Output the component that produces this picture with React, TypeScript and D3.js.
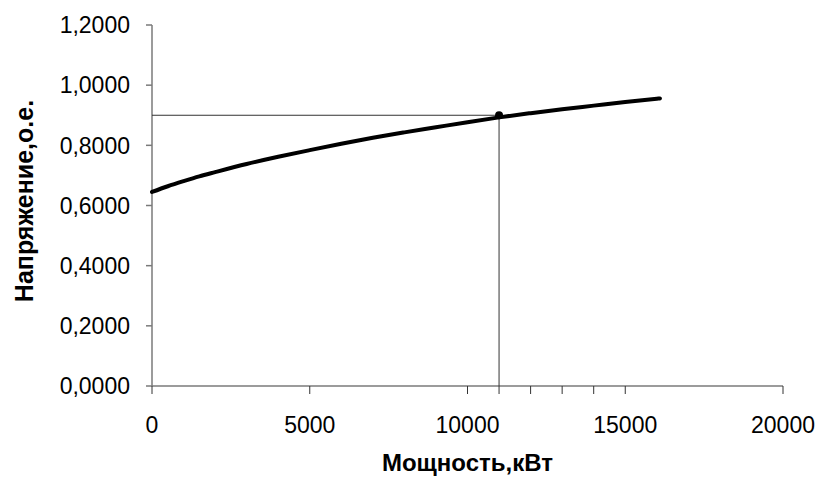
import React from 'react';
import * as d3 from 'd3';

// power, kW
const power = [0, 500, 1000, 1500, 2000, 3000, 4000, 5000, 6000, 7000, 8000, 9000, 10000, 11000, 12000, 13000, 14000, 15000, 16000, 16100];
// voltage, p.u.
const voltage = [0.645, 0.664, 0.681, 0.697, 0.711, 0.738, 0.762, 0.784, 0.805, 0.825, 0.843, 0.86, 0.877, 0.893, 0.907, 0.92, 0.932, 0.944, 0.955, 0.956];

const markPower = 11000;
const markVoltage = 0.9;

const yTicks = [0, 0.2, 0.4, 0.6, 0.8, 1.0, 1.2];
const xTicks = [0, 5000, 10000, 11000, 12000, 13000, 14000, 15000, 20000];
const xLabels = [0, 5000, 10000, 15000, 20000];

const width = 817;
const height = 478;
const margin = { left: 152, right: 34, top: 25, bottom: 92 };

const App = () => {
    const x = d3.scaleLinear().domain([0, 20000]).range([margin.left, width - margin.right]);
    const y = d3.scaleLinear().domain([0, 1.2]).range([height - margin.bottom, margin.top]);

    const line = d3.line<number>()
        .x((d, i) => x(power[i]))
        .y(d => y(d))
        .curve(d3.curveMonotoneX);

    const fmtY = (v: number) => v.toFixed(4).replace('.', ',');
    const font = 'Liberation Sans, Arial, sans-serif';
    const axisColor = '#7a7a7a';

    return (
        <svg width={width} height={height} style={{ position: 'absolute', left: 0, top: 0, background: '#fff' }}>
            {/* y axis */}
            <line x1={x(0)} x2={x(0)} y1={y(1.2)} y2={y(0)} stroke={axisColor} strokeWidth={1.5} />
            {yTicks.map(t => (
                <g key={t}>
                    <line x1={x(0) - 6} x2={x(0)} y1={y(t)} y2={y(t)} stroke={axisColor} strokeWidth={1.5} />
                    <text x={x(0) - 22} y={y(t)} dy="0.36em" textAnchor="end" fontFamily={font} fontSize={23} fill="#000">
                        {fmtY(t)}
                    </text>
                </g>
            ))}

            {/* x axis */}
            <line x1={x(0)} x2={x(20000)} y1={y(0)} y2={y(0)} stroke={axisColor} strokeWidth={1.5} />
            {xTicks.map(t => (
                <line key={t} x1={x(t)} x2={x(t)} y1={y(0)} y2={y(0) + 8} stroke="#333" strokeWidth={1} />
            ))}
            {xLabels.map(t => (
                <text key={t} x={x(t)} y={433} textAnchor="middle" fontFamily={font} fontSize={23} fill="#000">
                    {t}
                </text>
            ))}

            {/* reference lines */}
            <line x1={x(0)} x2={x(markPower)} y1={y(markVoltage)} y2={y(markVoltage)} stroke="#333" strokeWidth={1} />
            <line x1={x(markPower)} x2={x(markPower)} y1={y(markVoltage)} y2={y(0)} stroke="#333" strokeWidth={1} />

            {/* curve */}
            <path d={line(voltage) || ''} fill="none" stroke="#000" strokeWidth={4} strokeLinejoin="round" strokeLinecap="round" />
            <circle cx={x(markPower)} cy={y(markVoltage)} r={4} fill="#000" />

            {/* titles */}
            <text x={(x(0) + x(20000)) / 2} y={471} textAnchor="middle" fontFamily={font} fontSize={24} fontWeight="bold" fill="#000">
                Мощность,кВт
            </text>
            <text transform={`translate(33, 201) rotate(-90)`} textAnchor="middle" fontFamily={font} fontSize={25} fontWeight="bold" fill="#000">
                Напряжение,о.е.
            </text>
        </svg>
    );
};

export default App;
